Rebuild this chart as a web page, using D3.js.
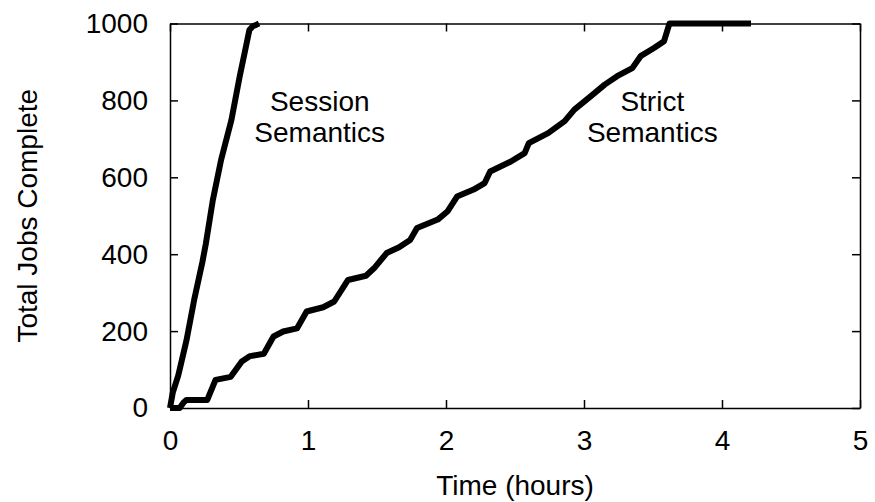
<!DOCTYPE html>
<html>
<head>
<meta charset="utf-8">
<script src="https://cdn.jsdelivr.net/npm/d3@7"></script>
<style>
  body { margin: 0; background: #fff; }
  text { font-family: "Liberation Sans", Arial, Helvetica, sans-serif; fill: #000; }
</style>
</head>
<body>
<div id="chart"></div>
<script>
// values: [hours, jobs complete]
const sessionSeries = [
  [0, 0], [0.02, 40], [0.06, 85], [0.12, 177], [0.175, 281], [0.235, 380],
  [0.26, 428], [0.31, 540], [0.37, 645], [0.445, 749], [0.505, 862],
  [0.555, 948], [0.575, 983], [0.6, 993], [0.627, 997], [0.645, 1000]
];
const strictSeries = [
  [0, 0], [0.07, 0], [0.1, 15], [0.12, 21], [0.27, 21], [0.33, 73], [0.44, 81],
  [0.52, 121], [0.58, 135], [0.68, 141], [0.75, 186], [0.82, 199], [0.92, 207],
  [0.99, 251], [1.11, 262], [1.19, 277], [1.29, 333], [1.42, 344], [1.48, 364],
  [1.57, 403], [1.66, 418], [1.74, 437], [1.79, 468], [1.94, 490], [2.01, 511],
  [2.08, 550], [2.2, 568], [2.28, 585], [2.32, 615], [2.47, 641], [2.57, 663],
  [2.6, 689], [2.74, 715], [2.86, 746], [2.93, 776], [3.05, 811], [3.15, 841],
  [3.24, 863], [3.35, 884], [3.41, 915], [3.51, 937], [3.58, 954], [3.61, 989],
  [3.62, 1000], [4.21, 1000]
];
const xTicks = [0, 1, 2, 3, 4, 5];
const yTicks = [0, 200, 400, 600, 800, 1000];
// label lines, anchored at [hours, jobs] for the first baseline
const curveLabels = [
  { at: [1.085, 772], lines: ["Session", "Semantics"] },
  { at: [3.495, 772], lines: ["Strict", "Semantics"] }
];

const width = 875, height = 502;
const margin = { top: 23.5, right: 15, bottom: 94, left: 170 };
const fontSize = 28;

const svg = d3.select("#chart").append("svg")
  .attr("width", width)
  .attr("height", height);

const x = d3.scaleLinear().domain([0, 5]).range([margin.left, width - margin.right]);
const y = d3.scaleLinear().domain([0, 1000]).range([height - margin.bottom, margin.top]);

function styleAxis(g) {
  g.selectAll("path, line").attr("stroke", "#000").attr("stroke-width", 1.5);
  g.selectAll("text")
    .attr("font-size", fontSize)
    .attr("font-family", '"Liberation Sans", Arial, sans-serif')
    .attr("fill", "#000");
}

svg.append("g")
  .attr("transform", `translate(0,${y(0)})`)
  .call(d3.axisBottom(x).tickValues(xTicks).tickFormat(d3.format("d"))
    .tickSizeInner(-8).tickSizeOuter(0).tickPadding(22))
  .call(styleAxis);

svg.append("g")
  .attr("transform", `translate(${x(0)},0)`)
  .call(d3.axisLeft(y).tickValues(yTicks).tickFormat(d3.format("d"))
    .tickSizeInner(-8).tickSizeOuter(0).tickPadding(22))
  .call(styleAxis);

svg.append("g")
  .attr("transform", `translate(0,${y(1000)})`)
  .call(d3.axisTop(x).tickValues(xTicks).tickSizeInner(-8).tickSizeOuter(0).tickFormat(""))
  .call(styleAxis);

svg.append("g")
  .attr("transform", `translate(${x(5)},0)`)
  .call(d3.axisRight(y).tickValues(yTicks).tickSizeInner(-8).tickSizeOuter(0).tickFormat(""))
  .call(styleAxis);

const line = d3.line()
  .x(d => x(d[0]))
  .y(d => y(d[1]));

[strictSeries, sessionSeries].forEach(series => {
  svg.append("path")
    .datum(series)
    .attr("d", line)
    .attr("fill", "none")
    .attr("stroke", "#000")
    .attr("stroke-width", 6)
    .attr("stroke-linejoin", "round")
    .attr("stroke-linecap", "butt");
});

curveLabels.forEach(lbl => {
  const t = svg.append("text")
    .attr("x", x(lbl.at[0]))
    .attr("y", y(lbl.at[1]))
    .attr("text-anchor", "middle")
    .attr("font-size", fontSize);
  lbl.lines.forEach((s, i) => {
    t.append("tspan")
      .attr("x", x(lbl.at[0]))
      .attr("dy", i === 0 ? 0 : 31)
      .text(s);
  });
});

svg.append("text")
  .attr("x", (x(0) + x(5)) / 2)
  .attr("y", 495)
  .attr("text-anchor", "middle")
  .attr("font-size", fontSize)
  .text("Time (hours)");

svg.append("text")
  .attr("transform", `translate(37,${(y(0) + y(1000)) / 2}) rotate(-90)`)
  .attr("text-anchor", "middle")
  .attr("font-size", fontSize)
  .text("Total Jobs Complete");
</script>
</body>
</html>
